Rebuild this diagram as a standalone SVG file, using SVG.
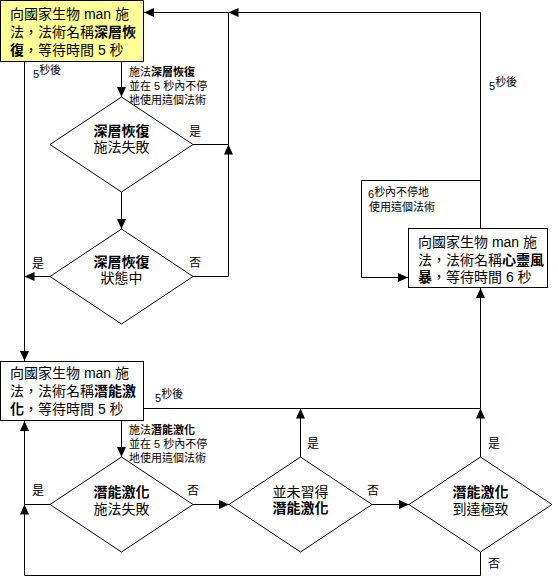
<svg xmlns="http://www.w3.org/2000/svg" width="558" height="578" viewBox="0 0 558 578">
<style>
text{font-family:"Liberation Sans","Noto Sans CJK TC","Noto Sans CJK SC",sans-serif;fill:#000}
.bx{font-size:14px}
.dt{font-size:14px;text-anchor:middle}
.lb{font-size:11px}
.yn{font-size:12px}
.b{font-weight:bold}
.box{fill:#fff;stroke:#000;stroke-width:1}
.dia{fill:#fff;stroke:#000;stroke-width:1}
.c{fill:none;stroke:#000;stroke-width:1}
.ca{fill:none;stroke:#000;stroke-width:1;marker-end:url(#ah)}
</style>
<defs>
<marker id="ah" markerUnits="userSpaceOnUse" markerWidth="10" markerHeight="9" refX="10" refY="4.5" orient="auto">
<path d="M0,0 L10,4.5 L0,9 z" fill="#000"/>
</marker>
</defs>
<rect width="558" height="578" fill="#fff"/>
<g id="connectors">
<path class="ca" d="M24.5,62 V361"/>
<path class="ca" d="M50,276.5 H24.5"/>
<path class="ca" d="M121.5,62 V97"/>
<path class="ca" d="M121.5,192 V229"/>
<path class="c" d="M193,144.5 H228.5"/>
<path class="ca" d="M193,276.5 H228.5 V144.5"/>
<path class="c" d="M228.5,144.5 V12.5"/>
<path class="ca" d="M480.5,228 V12.5 H228.5"/>
<path class="ca" d="M228.5,12.5 H144"/>
<path class="ca" d="M480.5,180.5 H361.5 V277.5 H408"/>
<path class="ca" d="M144,408.5 H480.5 V288"/>
<path class="ca" d="M300.5,457 V408.5"/>
<path class="ca" d="M480.5,457 V408.5"/>
<path class="ca" d="M121.5,421 V457"/>
<path class="ca" d="M193,504.5 H229"/>
<path class="ca" d="M372,504.5 H409"/>
<path class="ca" d="M480.5,552 V575.5 H24.5 V504.5"/>
<path class="c" d="M50,504.5 H24.5"/>
<path class="ca" d="M24.5,504.5 V421"/>
<text class="lb" x="33" y="78">5<tspan dy="-4">秒後</tspan></text>
<text class="lb" x="489" y="90">5<tspan dy="-4">秒後</tspan></text>
<text class="lb" x="155" y="402">5<tspan dy="-4">秒後</tspan></text>
<text class="lb" x="368" y="198">6<tspan dy="-2">秒內不停地</tspan><tspan x="369" dy="15">使用這個法術</tspan></text>
<text class="lb" x="129" y="75.5">施法<tspan class="b">深層恢復</tspan><tspan x="129" dy="14">並在 5 秒內不停</tspan><tspan x="129" dy="14">地使用這個法術</tspan></text>
<text class="lb" x="129" y="434">施法<tspan class="b">潛能激化</tspan><tspan x="129" dy="14">並在 5 秒內不停</tspan><tspan x="129" dy="14">地使用這個法術</tspan></text>
<text class="yn" x="189" y="135.5">是</text>
<text class="yn" x="126" y="169.5">否</text>
<text class="yn" x="189" y="266.5">否</text>
<text class="yn" x="32" y="267.5">是</text>
<text class="yn" x="32" y="494.5">是</text>
<text class="yn" x="187" y="494.5">否</text>
<text class="yn" x="307" y="447.5">是</text>
<text class="yn" x="367" y="494.5">否</text>
<text class="yn" x="488" y="447.5">是</text>
<text class="yn" x="488" y="567.5">否</text>
</g>
<g id="box1">
<rect class="box" x="0.5" y="0.5" width="143" height="61" style="fill:#ffff99"/>
<text class="bx" x="10" y="19">向國家生物 man 施<tspan x="10" dy="18">法，法術名稱</tspan><tspan class="b">深層恢</tspan><tspan class="b" x="10" dy="18">復</tspan>，等待時間 5 秒</text>
</g>
<g id="dia1">
<polygon class="dia" points="121.5,97 193,144.5 121.5,192 50,144.5"/>
<text class="dt" x="121.5" y="136"><tspan class="b">深層恢復</tspan><tspan x="121.5" dy="16">施法失敗</tspan></text>
</g>
<g id="dia2">
<polygon class="dia" points="121.5,229 193,276.5 121.5,324 50,276.5"/>
<text class="dt" x="121.5" y="267"><tspan class="b">深層恢復</tspan><tspan x="121.5" dy="16">狀態中</tspan></text>
</g>
<g id="box3">
<rect class="box" x="408.5" y="228.5" width="139" height="59"/>
<text class="bx" x="418" y="247">向國家生物 man 施<tspan x="418" dy="17.5">法，法術名稱</tspan><tspan class="b">心靈風</tspan><tspan class="b" x="418" dy="17.5">暴</tspan>，等待時間 6 秒</text>
</g>
<g id="box2">
<rect class="box" x="0.5" y="361.5" width="143" height="59"/>
<text class="bx" x="10" y="378">向國家生物 man 施<tspan x="10" dy="18">法，法術名稱</tspan><tspan class="b">潛能激</tspan><tspan class="b" x="10" dy="18">化</tspan>，等待時間 5 秒</text>
</g>
<g id="dia3">
<polygon class="dia" points="121.5,457 193,504.5 121.5,552 50,504.5"/>
<text class="dt" x="121.5" y="497"><tspan class="b">潛能激化</tspan><tspan x="121.5" dy="17">施法失敗</tspan></text>
</g>
<g id="dia4">
<polygon class="dia" points="300.5,457 372,504.5 300.5,552 229,504.5"/>
<text class="dt" x="300.5" y="497">並未習得<tspan class="b" x="300.5" dy="16">潛能激化</tspan></text>
</g>
<g id="dia5">
<polygon class="dia" points="480.5,457 552,504.5 480.5,552 409,504.5"/>
<text class="dt" x="480.5" y="497"><tspan class="b">潛能激化</tspan><tspan x="480.5" dy="17">到達極致</tspan></text>
</g>
</svg>
